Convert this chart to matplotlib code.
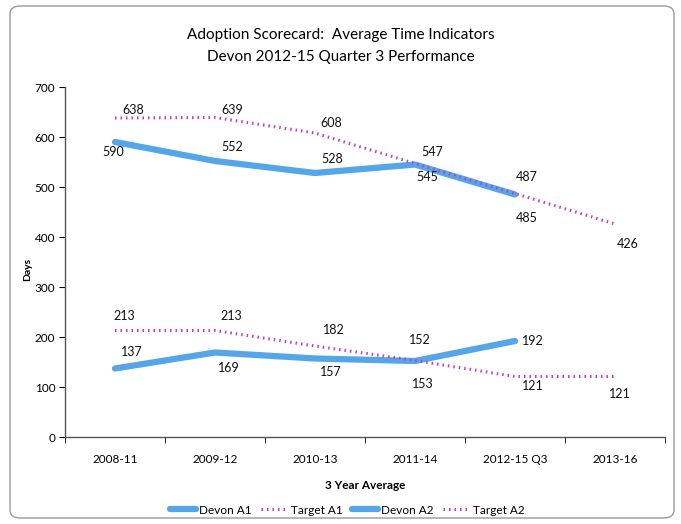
import matplotlib
matplotlib.use("Agg")
import matplotlib.pyplot as plt
from matplotlib.patches import FancyBboxPatch

plt.rcParams['font.family'] = ['Lato', 'DejaVu Sans']

# periodes (moyenne sur 3 ans)
periodes = ["2008-11", "2009-12", "2010-13", "2011-14", "2012-15 Q3", "2013-16"]

devon_a1 = [590, 552, 528, 545, 485]
target_a1 = [638, 639, 608, 547, 487, 426]
devon_a2 = [137, 169, 157, 152, 192]
target_a2 = [213, 213, 182, 153, 121, 121]

# decalage des etiquettes (pixels) pour chaque serie
dec_devon_a1 = [(-2, -10), (17, 14), (17, 14), (12, -12), (12, -23)]
dec_target_a1 = [(18, 8), (17, 8), (16, 10), (17, 12), (12, 17), (13, -20)]
dec_devon_a2 = [(17, 16), (14, -15), (16, -14), (5, 21), (18, 0)]
dec_target_a2 = [(9, 15), (16, 15), (19, 16), (8, -24), (18, -10), (5, -17)]

bleu = "#55a6e8"
rose = "#c03fc0"

fig = plt.figure(figsize=(6.81, 5.24), dpi=100)
ax = fig.add_axes([65 / 681, 1 - 437 / 524, 600 / 681, 350 / 524])

# cadre arrondi autour du graphique
cadre = FancyBboxPatch((10 / 681, 6 / 524), 664 / 681, 512 / 524,
                       boxstyle="round,pad=0,rounding_size=0.015",
                       transform=fig.transFigure, fill=False,
                       edgecolor="#9a9a9a", linewidth=1.0)
fig.patches.append(cadre)

x_long = range(len(periodes))


def tracer(valeurs, style, nom, decalages):
    xs = list(range(len(valeurs)))
    if style == "devon":
        ax.plot(xs, valeurs, color=bleu, linewidth=4.5, solid_capstyle="round",
                label=nom, zorder=2)
    else:
        ax.plot(xs, valeurs, color=rose, linewidth=2.2, linestyle=(0, (0.5, 1.3)),
                label=nom, zorder=3)
    for x, v, (dx, dy) in zip(xs, valeurs, decalages):
        ax.annotate(str(v), (x, v), xytext=(dx, dy), textcoords="offset pixels",
                    ha="center", va="center", fontsize=9, color="#111111")


tracer(devon_a1, "devon", "Devon A1", dec_devon_a1)
tracer(target_a1, "target", "Target A1", dec_target_a1)
tracer(devon_a2, "devon", "Devon A2", dec_devon_a2)
tracer(target_a2, "target", "Target A2", dec_target_a2)

ax.set_xlim(-0.5, len(periodes) - 0.5)
ax.set_ylim(0, 700)
ax.set_yticks(range(0, 701, 100))
ax.set_xticks(list(x_long))
ax.set_xticklabels(periodes, fontsize=8.5)
ax.set_xticks([i - 0.5 for i in range(len(periodes) + 1)], minor=True)
ax.tick_params(axis="x", which="major", length=0, pad=12)
ax.tick_params(axis="x", which="minor", length=4, direction="out")
ax.tick_params(axis="y", labelsize=8.5, length=4, direction="out", pad=3)

for cote in ["top", "right"]:
    ax.spines[cote].set_visible(False)
for cote in ["left", "bottom"]:
    ax.spines[cote].set_color("#555555")
    ax.spines[cote].set_linewidth(1.0)

ax.set_ylabel("Days", fontsize=7.5, fontweight="bold", labelpad=-2)
ax.yaxis.set_label_coords(-33 / 600, 0.48)
ax.set_xlabel("3 Year Average", fontsize=8.5, fontweight="bold", labelpad=11)

fig.text(0.5, 1 - 35 / 524, "Adoption Scorecard:  Average Time Indicators",
         ha="center", va="center", fontsize=11)
fig.text(0.5, 1 - 57 / 524, "Devon 2012-15 Quarter 3 Performance",
         ha="center", va="center", fontsize=11)

ax.legend(loc="center", bbox_to_anchor=(347 / 681, 1 - 510 / 524),
          bbox_transform=fig.transFigure, ncol=4, frameon=False,
          fontsize=8.5, handlelength=2.2, columnspacing=0.8, handletextpad=0.3)

fig.savefig("out.png", dpi=100)
